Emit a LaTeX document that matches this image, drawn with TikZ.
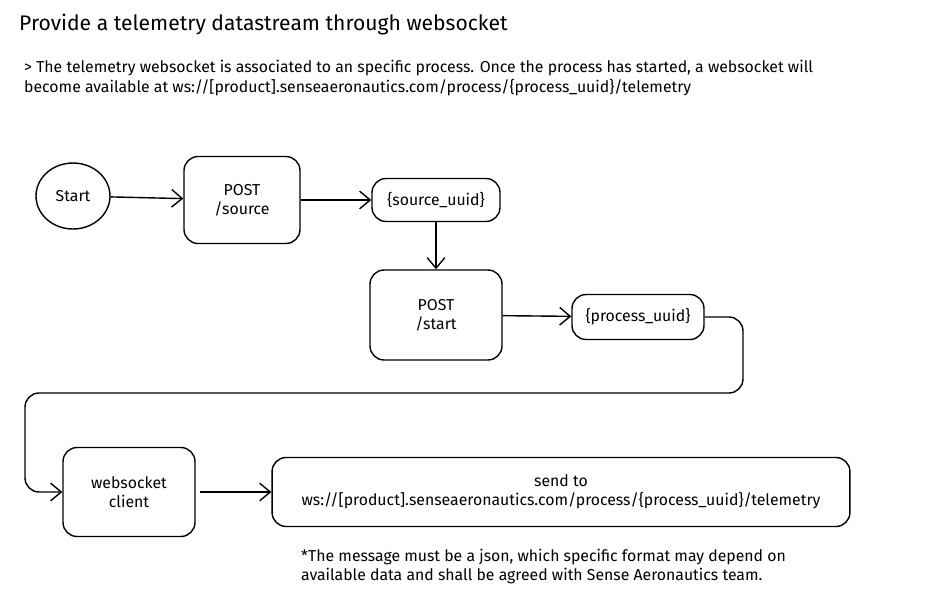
\documentclass[tikz,border=0pt]{standalone}
\usepackage{fontspec}
\setmainfont{Fira Sans}
\usetikzlibrary{positioning,arrows.meta,shapes.geometric}

\begin{document}
\begin{tikzpicture}[x=0.02cm,y=-0.02cm,
	box/.style={draw,thick,rounded corners=8pt,align=center,font=\small},
	flow/.style={-{Straight Barb[length=6pt,width=10pt]},thick}]
	
	\useasboundingbox (0,0) rectangle (934,606);
	
	\node[anchor=west,font=\large] (title) at (13,25) {Provide a telemetry datastream through websocket};
	\node[anchor=west,font=\small] (info1) at (18,68) {> The telemetry websocket is associated to an specific process. Once the process has started, a websocket will};
	\node[anchor=west,font=\small] (info2) at (18,88) {become available at ws://[product].senseaeronautics.com/process/\{process\_uuid\}/telemetry};
	
	\node[draw,thick,ellipse,minimum width=1.48cm,minimum height=1.32cm,font=\small] (start) at (73,196) {Start};
	
	\node[box,minimum width=2.32cm,minimum height=1.74cm] (source) at (242,200) {POST\\/source};
	\node[box,minimum width=2.56cm,minimum height=0.86cm] (suuid) at (436,200) {\{source\_uuid\}};
	\node[box,minimum width=2.64cm,minimum height=1.8cm] (pstart) at (436,315) {POST\\/start};
	\node[box,minimum width=2.64cm,minimum height=0.9cm] (puuid) at (638,317) {\{process\_uuid\}};
	\node[box,minimum width=2.64cm,minimum height=1.78cm] (client) at (129,492) {websocket\\client};
	\node[box,minimum width=11.56cm,minimum height=1.38cm] (send) at (561,492) {send to\\ws://[product].senseaeronautics.com/process/\{process\_uuid\}/telemetry};
	
	\node[anchor=north west,align=left,font=\small] (note) at (295,543) {*The message must be a json, which specific format may depend on\\available data and shall be agreed with Sense Aeronautics team.};
	
	\draw[flow] (start) -- (source);
	\draw[flow] (source) -- (suuid);
	\draw[flow] (suuid) -- (pstart);
	\draw[flow] (pstart) -- (puuid);
	\draw[flow,rounded corners=8pt] (puuid.east) -- (743,317) -- (743,393) -- (25,393) -- (25,492) -- (client.west);
	\draw[flow] (client.east) ++(4,0) -- (send.west);
\end{tikzpicture}
\end{document}
